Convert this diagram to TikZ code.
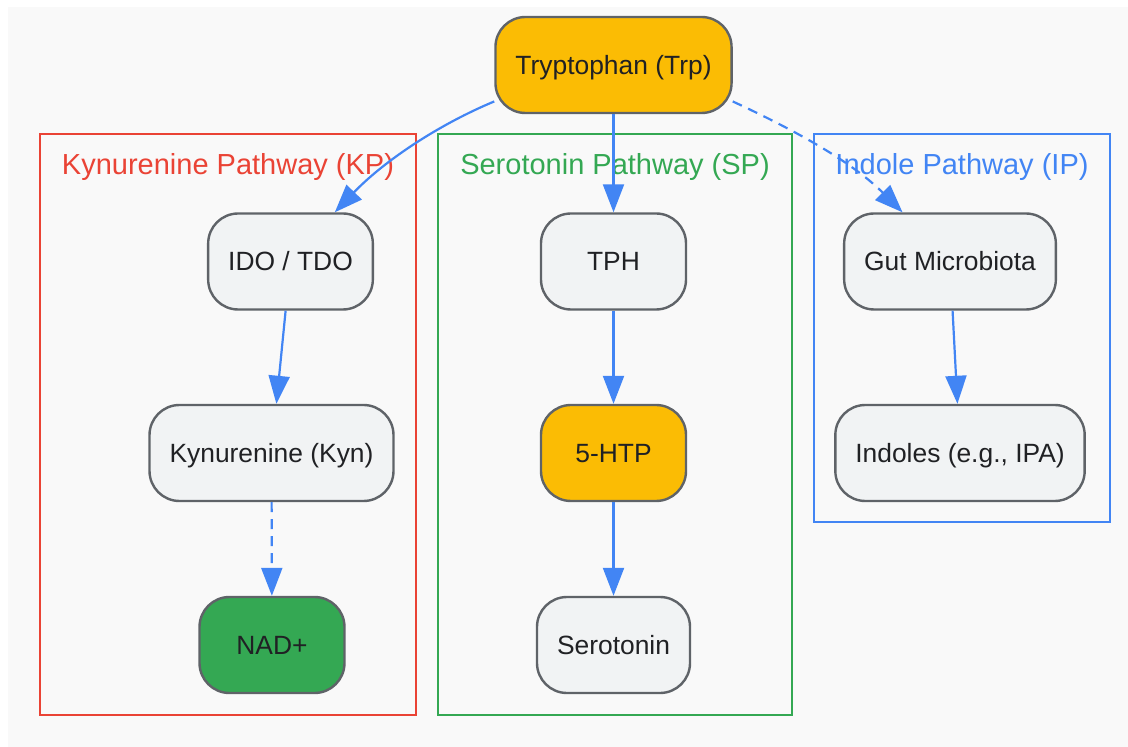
\documentclass[tikz,border=0pt]{standalone}
\usepackage{fontspec}
\setmainfont{Liberation Sans}
\usetikzlibrary{arrows.meta}

\definecolor{bgcol}{HTML}{F9F9F9}
\definecolor{nodefill}{HTML}{F1F3F4}
\definecolor{nodeline}{HTML}{5F6368}
\definecolor{textcol}{HTML}{202124}
\definecolor{gred}{HTML}{EA4335}
\definecolor{ggreen}{HTML}{34A853}
\definecolor{gblue}{HTML}{4285F4}
\definecolor{gyellow}{HTML}{FBBC04}

\tikzset{
  stepnode/.style={draw=nodeline, line width=1.2pt, fill=nodefill, rounded corners=15pt,
    minimum width=72.5pt, minimum height=48pt, inner xsep=10pt, text=textcol,
    text height=9.5pt, text depth=0pt, font=\fontsize{13.2}{15}\selectfont},
  keynode/.style={stepnode, fill=gyellow},
  endnode/.style={stepnode, fill=ggreen},
  cluster/.style={line width=1.1pt},
  clustertitle/.style={text height=10.4pt, text depth=0pt, font=\fontsize{14.5}{17}\selectfont},
  flow/.style={draw=gblue, line width=1.1pt, -{Triangle[length=14pt,width=10.5pt]}},
  sideflow/.style={flow, dash pattern=on 5pt off 3.5pt}
}

\begin{document}
\begin{tikzpicture}[x=0.5pt, y=-0.5pt]
  \useasboundingbox (0,0) rectangle (1128,747);
  \fill[bgcol] (8,7) rectangle (1128,747);

  % pathway boxes
  \draw[cluster, gred] (40,134) rectangle (416,715);
  \draw[cluster, ggreen] (438,134) rectangle (792,715);
  \draw[cluster, gblue] (814,134) rectangle (1110,522);
  \node[clustertitle, text=gred] (kptitle) at (228,164) {Kynurenine Pathway (KP)};
  \node[clustertitle, text=ggreen] (sptitle) at (615,164) {Serotonin Pathway (SP)};
  \node[clustertitle, text=gblue] (iptitle) at (962,164) {Indole Pathway (IP)};

  % nodes
  \node[keynode] (trp) at (613.5,65) {Tryptophan (Trp)};
  \node[stepnode] (ido) at (290.5,261.5) {IDO / TDO};
  \node[stepnode] (kyn) at (271.5,453) {Kynurenine (Kyn)};
  \node[endnode] (nad) at (272,645) {NAD+};
  \node[stepnode] (tph) at (613.5,261.5) {TPH};
  \node[keynode] (htp) at (613.5,453) {5-HTP};
  \node[stepnode] (sero) at (613.5,645) {Serotonin};
  \node[stepnode] (gut) at (950,261.5) {Gut Microbiota};
  \node[stepnode] (indoles) at (960,453) {Indoles (e.g., IPA)};

  % connectors
  \draw[flow] (trp.197) .. controls (440,124) and (385,160) .. (ido.48);
  \draw[flow] (trp) -- (tph);
  \draw[sideflow] (trp.-17) .. controls (790,128) and (850,160) .. (gut.134);
  \draw[flow] (ido) -- (kyn);
  \draw[sideflow] (kyn) -- (nad);
  \draw[flow] (tph) -- (htp);
  \draw[flow] (htp) -- (sero);
  \draw[flow] (gut) -- (indoles);
\end{tikzpicture}
\end{document}
